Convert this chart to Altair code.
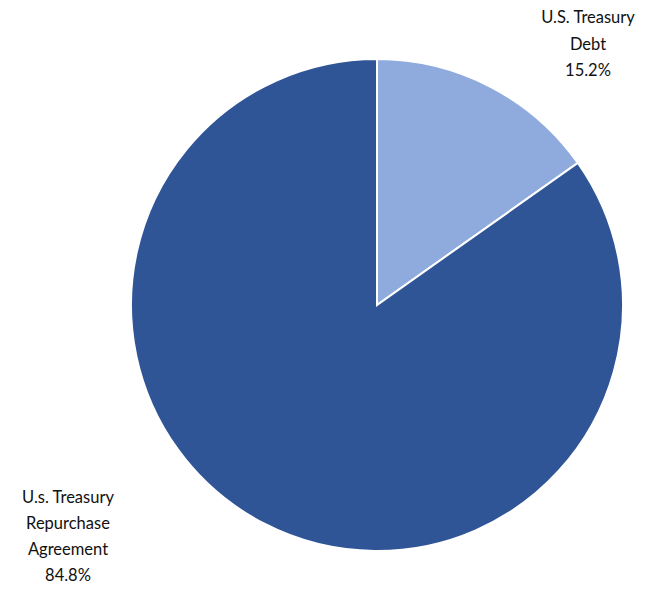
import altair as alt
import pandas as pd

categories = ["U.S. Treasury Debt", "U.s. Treasury Repurchase Agreement"]
labels = ["U.S. Treasury\nDebt\n15.2%", "U.s. Treasury\nRepurchase\nAgreement\n84.8%"]
values = [15.2, 84.8]
order = [1, 2]
colors = ["#8FAADC", "#2F5597"]

df = pd.DataFrame({"category": categories, "label": labels, "value": values, "order": order})

base = alt.Chart(df)

pie = base.mark_arc(outerRadius=246, stroke="white", strokeWidth=2).encode(
    theta=alt.Theta("value:Q", stack=True),
    order=alt.Order("order:Q"),
    color=alt.Color("category:N", scale=alt.Scale(domain=categories, range=colors), legend=None),
    x=alt.value(369),
    y=alt.value(297),
)

text_style = dict(fontSize=16.5, font="Lato", color="#111111", align="center",
                  baseline="middle", lineBreak="\n", lineHeight=26.5)

lab1 = base.transform_filter(alt.datum.order == 1).mark_text(**text_style).encode(
    text="label:N", x=alt.value(580), y=alt.value(10))
lab2 = base.transform_filter(alt.datum.order == 2).mark_text(**{**text_style, "lineHeight": 26}).encode(
    text="label:N", x=alt.value(60), y=alt.value(490))

chart = alt.layer(pie, lab1, lab2).properties(
    width=655, height=576,
    autosize=alt.AutoSizeParams(type="none"),
    padding=0,
).configure(background="white").configure_view(stroke=None, strokeWidth=0)

chart.save("out.html", embed_options={"renderer": "svg", "actions": False})
